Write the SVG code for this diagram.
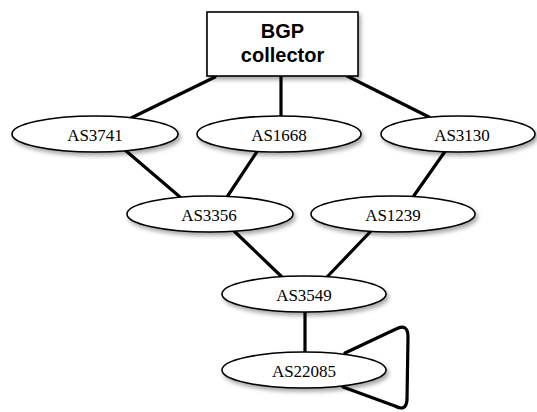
<svg xmlns="http://www.w3.org/2000/svg" width="537" height="412" viewBox="0 0 537 412">
<defs>
<filter id="sh" x="-20%" y="-30%" width="140%" height="170%">
<feDropShadow dx="2" dy="3" stdDeviation="2" flood-color="#000" flood-opacity="0.35"/>
</filter>
<style>
.e{fill:#fff;stroke:#000;stroke-width:1.6;filter:url(#sh)}
.b{fill:#fff;stroke:#000;stroke-width:1.6;filter:url(#sh)}
.t{font-family:"Liberation Serif","Times New Roman",serif;font-size:17px;text-anchor:middle;fill:#000}
.bt{font-family:"Liberation Sans",Arial,sans-serif;font-size:20px;font-weight:bold;text-anchor:middle;fill:#000}
.c{fill:none;stroke:#000;stroke-width:3.2;stroke-linejoin:round;stroke-linecap:round}
</style>
</defs>
<rect width="537" height="412" fill="#fff"/>
<g id="connectors">
<line class="c" x1="215" y1="77" x2="131" y2="118"/>
<line class="c" x1="281" y1="77" x2="281" y2="117"/>
<line class="c" x1="347" y1="76" x2="429" y2="117"/>
<line class="c" x1="125" y1="150" x2="180" y2="197"/>
<line class="c" x1="258" y1="150" x2="227" y2="197"/>
<line class="c" x1="446" y1="150" x2="413" y2="197"/>
<line class="c" x1="233" y1="230" x2="282" y2="277"/>
<line class="c" x1="372" y1="230" x2="327" y2="277"/>
<line class="c" x1="305" y1="312" x2="305" y2="352"/>
<path class="c" d="M345,353 L396,329 Q408,323 408,337 L407,400 Q406,412 395,406 L343,387"/>
</g>
<g id="bgp">
<rect class="b" x="207" y="12" width="151" height="64"/>
<text class="bt" x="282.5" y="38">BGP</text>
<text class="bt" x="282.5" y="62">collector</text>
</g>
<g id="as3741">
<ellipse class="e" cx="95" cy="134" rx="83" ry="18"/>
<text class="t" x="95" y="141">AS3741</text>
</g>
<g id="as1668">
<ellipse class="e" cx="279" cy="134" rx="82" ry="18"/>
<text class="t" x="279" y="141">AS1668</text>
</g>
<g id="as3130">
<ellipse class="e" cx="458" cy="134" rx="77" ry="18"/>
<text class="t" x="462" y="141">AS3130</text>
</g>
<g id="as3356">
<ellipse class="e" cx="210" cy="214" rx="83" ry="18"/>
<text class="t" x="209" y="221">AS3356</text>
</g>
<g id="as1239">
<ellipse class="e" cx="393" cy="214" rx="82" ry="18"/>
<text class="t" x="393" y="221">AS1239</text>
</g>
<g id="as3549">
<ellipse class="e" cx="304" cy="294" rx="82" ry="18"/>
<text class="t" x="304" y="301">AS3549</text>
</g>
<g id="as22085">
<ellipse class="e" cx="304" cy="370" rx="82" ry="18"/>
<text class="t" x="304" y="377">AS22085</text>
</g>
</svg>
